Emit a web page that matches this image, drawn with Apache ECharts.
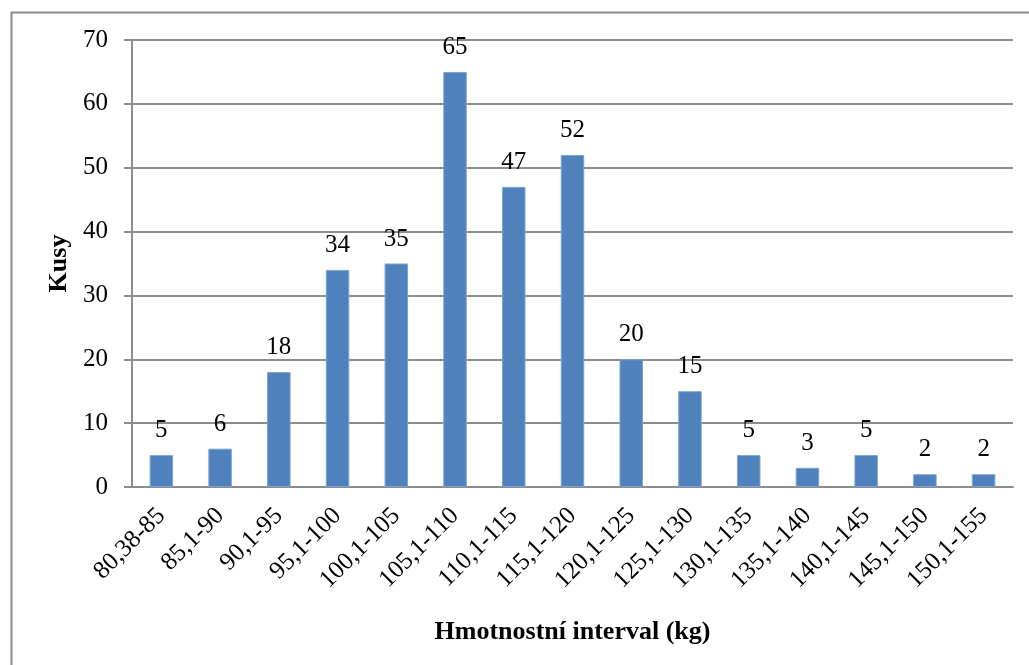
<!DOCTYPE html>
<html>
<head>
<meta charset="utf-8">
<style>
  html, body { margin: 0; padding: 0; background: #fff; }
  #chart { width: 1029px; height: 665px; }
</style>
<script src="https://cdn.jsdelivr.net/npm/echarts@6/dist/echarts.min.js"></script>
</head>
<body>
<div id="chart"></div>
<script>
// Weight intervals (kg) and piece counts per interval
const categories = ['80,38-85', '85,1-90', '90,1-95', '95,1-100', '100,1-105', '105,1-110',
  '110,1-115', '115,1-120', '120,1-125', '125,1-130', '130,1-135', '135,1-140',
  '140,1-145', '145,1-150', '150,1-155'];
const counts = [5, 6, 18, 34, 35, 65, 47, 52, 20, 15, 5, 3, 5, 2, 2];
const yMin = 0, yMax = 70, yStep = 10;

const serif = '"Liberation Serif", "Times New Roman", serif';
const gridColor = '#8c8c8c';

const chart = echarts.init(document.getElementById('chart'), null, { renderer: 'canvas' });
chart.setOption({
  animation: false,
  backgroundColor: '#ffffff',
  graphic: [{
    type: 'rect',
    shape: { x: 11.5, y: 12.5, width: 1100, height: 800 },
    style: { fill: 'none', stroke: '#8a8a8a', lineWidth: 2 },
    silent: true
  }],
  grid: { left: 132, right: 16, top: 40, bottom: 178 },
  xAxis: {
    type: 'category',
    data: categories,
    name: 'Hmotnostní interval (kg)',
    nameLocation: 'middle',
    nameGap: 132,
    nameTextStyle: { fontFamily: serif, fontSize: 26, fontWeight: 'bold', color: '#000' },
    axisLine: { lineStyle: { color: gridColor, width: 2 } },
    axisTick: { show: false },
    axisLabel: {
      rotate: 45, margin: 25, interval: 0,
      fontFamily: serif, fontSize: 25, color: '#000'
    }
  },
  yAxis: {
    type: 'value',
    min: yMin, max: yMax, interval: yStep,
    name: 'Kusy',
    nameLocation: 'middle',
    nameGap: 54,
    nameRotate: 90,
    nameTextStyle: { fontFamily: serif, fontSize: 26, fontWeight: 'bold', color: '#000' },
    axisLine: { show: true, lineStyle: { color: gridColor, width: 2 } },
    axisTick: { show: true, length: 8, lineStyle: { color: gridColor, width: 2 } },
    splitLine: { lineStyle: { color: gridColor, width: 2 } },
    axisLabel: { margin: 24, fontFamily: serif, fontSize: 25, color: '#000' }
  },
  series: [{
    type: 'bar',
    data: counts,
    barCategoryGap: '60%',
    itemStyle: { color: '#4f81bd', borderColor: '#7ea3d3', borderWidth: 1 },
    label: {
      show: true, position: 'top', distance: 12,
      fontFamily: serif, fontSize: 25, color: '#000'
    }
  }]
});
</script>
</body>
</html>
